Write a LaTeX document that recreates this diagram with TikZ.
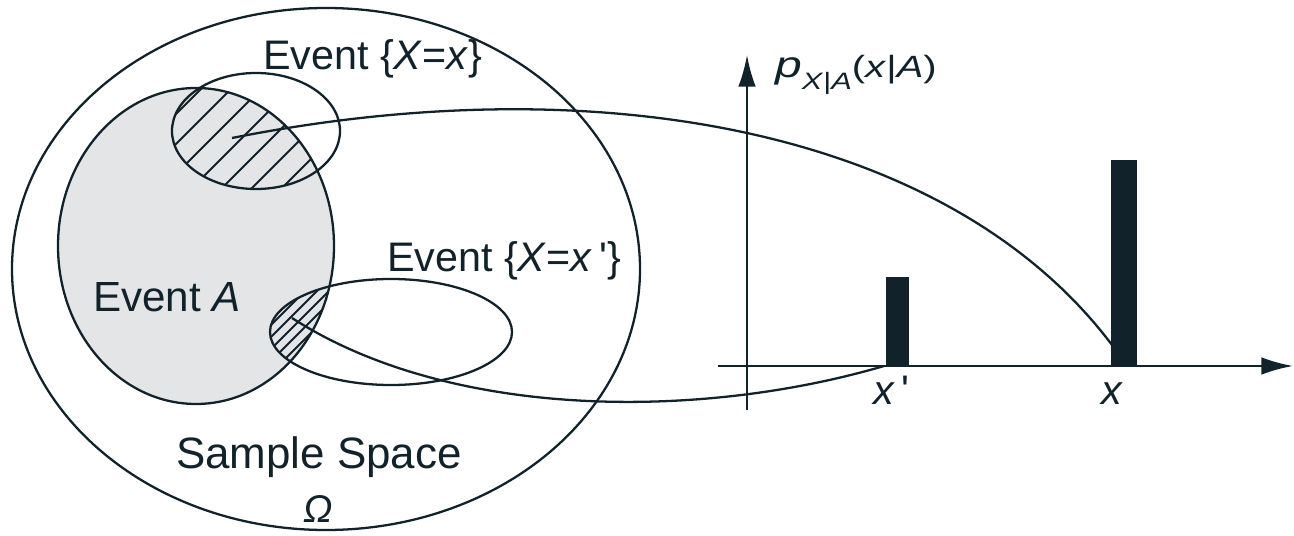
\documentclass[tikz,border=0pt]{standalone}
\usepackage{fontspec}
\usepackage{graphicx}
\setmainfont{Liberation Sans}
\usetikzlibrary{arrows.meta}
\definecolor{ink}{HTML}{12222B}
\definecolor{eventgray}{HTML}{E4E5E7}

\newcommand{\spike}[3]{%
    \fill[ink] (#1,366) rectangle (#1+#2,#3);
}

\tikzset{
    lbl/.style={inner sep=0pt, anchor=base west, font=\fontsize{23.5}{28}\selectfont},
    hatch/.style={line width=1.1pt},
    axis/.style={-{Latex[length=18pt,width=10pt]}}
}

\begin{document}
\begin{tikzpicture}[x=0.02cm, y=-0.02cm, line width=1.3pt, color=ink]
    \useasboundingbox (0,0) rectangle (1294,536);
    % Sample space and event A
    \draw (326,269) ellipse [x radius=314, y radius=261];
    \fill[eventgray] (196,246) ellipse [x radius=138, y radius=158];
    % Hatch the overlaps
    \begin{scope}
        \clip (196,246) ellipse [x radius=138, y radius=158];
        \clip (256,131) ellipse [x radius=84, y radius=58];
        \foreach \c in {200,230,...,560} {
            \draw[hatch] (\c-60,60) -- (\c-260,260);
        }
    \end{scope}
    \begin{scope}
        \clip (196,246) ellipse [x radius=138, y radius=158];
        \clip (391,332) ellipse [x radius=121, y radius=53];
        \foreach \c in {560,572,...,710} {
            \draw[hatch] (\c-250,250) -- (\c-420,420);
        }
    \end{scope}
    \draw (196,246) ellipse [x radius=138, y radius=158];
    \draw (256,131) ellipse [x radius=84, y radius=58];
    \draw (391,332) ellipse [x radius=121, y radius=53];
    % Axes and bars
    \draw[axis] (747,410) -- (747,55);
    \draw[axis] (718,366) -- (1293,366);
    \spike{886}{23}{277}
    \spike{1111}{26}{160}
    \coordinate (hx) at (232,138);
    \coordinate (hxp) at (292,318);
    \coordinate (barx) at (1112,345);
    \coordinate (barxp) at (884,366);
    \draw (hx) .. controls (600,65) and (950,130) .. (barx);
    \draw (hxp) .. controls (450,420) and (700,420) .. (barxp);
    % Labels
    \node[lbl] (evx) at (262,70) {Event \{\textit{X}=\textit{x}\}};
    \node[lbl] (evxp) at (386,272) {Event \{\textit{X}=\textit{x}\,\textquotesingle\}};
    \node[lbl, font=\fontsize{24}{29}\selectfont] (eva) at (92,312) {Event \textit{A}};
    \node[lbl, font=\fontsize{25}{30}\selectfont] (ss) at (175,468) {Sample Space};
    \node[lbl, font=\fontsize{22}{26}\selectfont] (om) at (302,522) {\textit{Ω}};
    \node[lbl] (lxp) at (872,405) {\textit{x}\,\textquotesingle};
    \node[lbl] (lx) at (1100,405) {\textit{x}};
    \node[lbl, font=\fontsize{21}{25}\selectfont] (pmf) at (774,78)
        {\scalebox{1.3}[1]{\textit{p}\raisebox{-0.6ex}{\fontsize{13.5}{16}\selectfont\textit{X}|\textit{A}}{\fontsize{17.5}{21}\selectfont(\textit{x}|\textit{A})}}};
\end{tikzpicture}
\end{document}
